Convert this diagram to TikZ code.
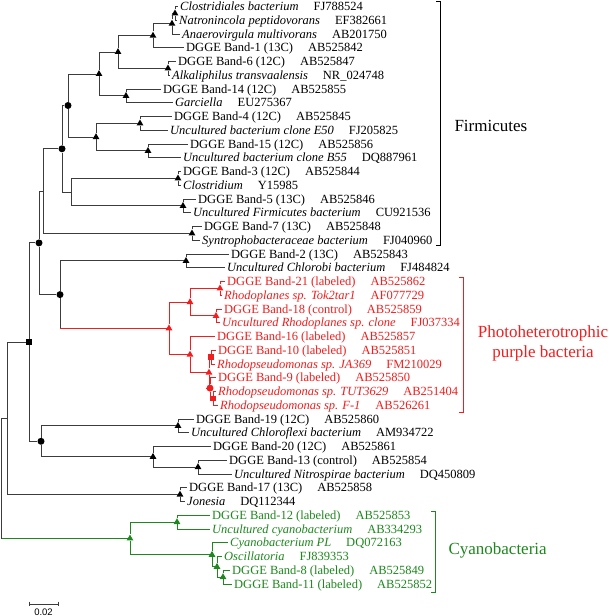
\documentclass[tikz,border=0pt]{standalone}
\usepackage{fontspec}
\setmainfont{Liberation Serif}
\newfontfamily\barfont{Liberation Sans}
\usetikzlibrary{shapes.geometric}

\definecolor{phred}{RGB}{240,30,30}
\definecolor{cyagreen}{RGB}{30,135,30}
\definecolor{branch}{RGB}{60,60,60}
\newcommand{\accgap}{\hspace{1.2em}}

\begin{document}
\begin{tikzpicture}[
  x=1pt, y=-1pt,
  font=\fontsize{12.5}{14}\selectfont,
  edge/.style={draw=branch, line width=0.9pt},
  leaf/.style={anchor=west, inner xsep=2pt, inner ysep=0pt, text height=8.3pt, text depth=0pt},
  tri/.style={regular polygon, regular polygon sides=3, fill, inner sep=0pt, minimum size=7.8pt},
  dot/.style={circle, fill, inner sep=0pt, minimum size=7pt},
  sq/.style={rectangle, fill, inner sep=0pt, minimum size=5.4pt},
  clade/.style={line width=0.9pt},
  cladename/.style={font=\fontsize{17}{20}\selectfont, align=center}
]
\useasboundingbox (0,0) rectangle (609,616);

% internal nodes
\node[tri] (n1) at (175,13.4) {};
\node[tri] (n2) at (172,23.7) {};
\node[tri] (n3) at (153,35.7) {};
\node[tri] (n4) at (168,68.4) {};
\node[tri] (n5) at (118,52.0) {};
\node[tri] (n6) at (126,95.9) {};
\node[tri] (n7) at (99,74.0) {};
\node[tri] (n8) at (140,123.4) {};
\node[tri] (n9) at (148,150.9) {};
\node[tri] (n10) at (96,137.1) {};
\node[dot] (n11) at (68,105.5) {};
\node[tri] (n12) at (178,178.4) {};
\node[tri] (n13) at (183,205.9) {};
\coordinate (n14) at (71,192.1);
\node[dot] (n15) at (62,148.8) {};
\node[tri] (n16) at (192,233.4) {};
\coordinate (n17) at (43,191.1);
\node[tri] (n18) at (186,260.9) {};
\node[tri, fill=phred] (n19) at (220,288.4) {};
\node[tri, fill=phred] (n20) at (216,315.9) {};
\node[tri, fill=phred] (n21) at (190,302.1) {};
\node[sq, fill=phred] (n22) at (211,357.1) {};
\node[sq, fill=phred] (n23) at (213,398.4) {};
\node[dot, fill=phred] (n24) at (210,388.1) {};
\node[tri, fill=phred] (n25) at (209,372.6) {};
\node[tri, fill=phred] (n26) at (190,354.6) {};
\node[tri, fill=phred] (n27) at (169,328.3) {};
\node[dot] (n28) at (60,294.6) {};
\node[dot] (n29) at (39,242.9) {};
\node[tri] (n30) at (178,425.9) {};
\node[tri] (n31) at (198,467.1) {};
\node[tri] (n32) at (153,456.8) {};
\node[dot] (n33) at (41,441.3) {};
\node[sq] (n34) at (29,342.1) {};
\node[tri] (n35) at (180,494.6) {};
\coordinate (n36) at (7,418.4);
\node[tri, fill=cyagreen] (n37) at (177,522.1) {};
\node[tri, fill=cyagreen] (n38) at (223,577.1) {};
\node[tri, fill=cyagreen] (n39) at (217,566.8) {};
\node[tri, fill=cyagreen] (n40) at (212,554.8) {};
\node[tri, fill=cyagreen] (n41) at (130,538.5) {};
\coordinate (root) at (1.5,478.4);

% leaves
\node[leaf] (t1) at (178,6.5) {\textit{Clostridiales bacterium}\accgap FJ788524};
\node[leaf] (t2) at (177,20.25) {\textit{Natronincola peptidovorans}\accgap EF382661};
\node[leaf] (t3) at (180,34) {\textit{Anaerovirgula multivorans}\accgap AB201750};
\node[leaf] (t4) at (184,47.75) {DGGE Band-1 (13C)\accgap AB525842};
\node[leaf] (t5) at (176,61.5) {DGGE Band-6 (12C)\accgap AB525847};
\node[leaf] (t6) at (170,75.25) {\textit{Alkaliphilus transvaalensis}\accgap NR\_024748};
\node[leaf] (t7) at (161,89) {DGGE Band-14 (12C)\accgap AB525855};
\node[leaf] (t8) at (173,102.75) {\textit{Garciella}\accgap EU275367};
\node[leaf] (t9) at (172,116.5) {DGGE Band-4 (12C)\accgap AB525845};
\node[leaf] (t10) at (168,130.25) {\textit{Uncultured bacterium clone E50}\accgap FJ205825};
\node[leaf] (t11) at (188,144) {DGGE Band-15 (12C)\accgap AB525856};
\node[leaf] (t12) at (181,157.75) {\textit{Uncultured bacterium clone B55}\accgap DQ887961};
\node[leaf] (t13) at (181,171.5) {DGGE Band-3 (12C)\accgap AB525844};
\node[leaf] (t14) at (181,185.25) {\textit{Clostridium}\accgap Y15985};
\node[leaf] (t15) at (196,199) {DGGE Band-5 (13C)\accgap AB525846};
\node[leaf] (t16) at (191,212.75) {\textit{Uncultured Firmicutes bacterium}\accgap CU921536};
\node[leaf] (t17) at (202,226.5) {DGGE Band-7 (13C)\accgap AB525848};
\node[leaf] (t18) at (200,240.25) {\textit{Syntrophobacteraceae bacterium}\accgap FJ040960};
\node[leaf] (t19) at (229,254) {DGGE Band-2 (13C)\accgap AB525843};
\node[leaf] (t20) at (225,267.75) {\textit{Uncultured Chlorobi bacterium}\accgap FJ484824};
\node[leaf, text=phred] (t21) at (225,281.5) {DGGE Band-21 (labeled)\accgap AB525862};
\node[leaf, text=phred] (t22) at (222,295.25) {\textit{Rhodoplanes sp. Tok2tar1}\accgap AF077729};
\node[leaf, text=phred] (t23) at (222,309) {DGGE Band-18 (control)\accgap AB525859};
\node[leaf, text=phred] (t24) at (220,322.75) {\textit{Uncultured Rhodoplanes sp. clone}\accgap FJ037334};
\node[leaf, text=phred] (t25) at (215,336.5) {DGGE Band-16 (labeled)\accgap AB525857};
\node[leaf, text=phred] (t26) at (216,350.25) {DGGE Band-10 (labeled)\accgap AB525851};
\node[leaf, text=phred] (t27) at (215,364) {\textit{Rhodopseudomonas sp. JA369}\accgap FM210029};
\node[leaf, text=phred] (t28) at (216,377.75) {DGGE Band-9 (labeled)\accgap AB525850};
\node[leaf, text=phred] (t29) at (216,391.5) {\textit{Rhodopseudomonas sp. TUT3629}\accgap AB251404};
\node[leaf, text=phred] (t30) at (218,405.25) {\textit{Rhodopseudomonas sp. F-1}\accgap AB526261};
\node[leaf] (t31) at (194,419) {DGGE Band-19 (12C)\accgap AB525860};
\node[leaf] (t32) at (189,432.75) {\textit{Uncultured Chloroflexi bacterium}\accgap AM934722};
\node[leaf] (t33) at (211,446.5) {DGGE Band-20 (12C)\accgap AB525861};
\node[leaf] (t34) at (227,460.25) {DGGE Band-13 (control)\accgap AB525854};
\node[leaf] (t35) at (232,474) {\textit{Uncultured Nitrospirae bacterium}\accgap DQ450809};
\node[leaf] (t36) at (187,487.75) {DGGE Band-17 (13C)\accgap AB525858};
\node[leaf] (t37) at (185,501.5) {\textit{Jonesia}\accgap DQ112344};
\node[leaf, text=cyagreen] (t38) at (210,515.25) {DGGE Band-12 (labeled)\accgap AB525853};
\node[leaf, text=cyagreen] (t39) at (210,529) {\textit{Uncultured cyanobacterium}\accgap AB334293};
\node[leaf, text=cyagreen] (t40) at (228,542.75) {\textit{Cyanobacterium PL}\accgap DQ072163};
\node[leaf, text=cyagreen] (t41) at (222,556.5) {\textit{Oscillatoria}\accgap FJ839353};
\node[leaf, text=cyagreen] (t42) at (230,570.25) {DGGE Band-8 (labeled)\accgap AB525849};
\node[leaf, text=cyagreen] (t43) at (232,584) {DGGE Band-11 (labeled)\accgap AB525852};

% branches
\draw[edge] (n1) |- (t1) (n1) |- (t2) (n2) |- (n1) (n2) |- (t3)
  (n3) |- (n2) (n3) |- (t4) (n4) |- (t5) (n4) |- (t6)
  (n5) |- (n3) (n5) |- (n4) (n6) |- (t7) (n6) |- (t8)
  (n7) |- (n5) (n7) |- (n6) (n8) |- (t9) (n8) |- (t10)
  (n9) |- (t11) (n9) |- (t12) (n10) |- (n8) (n10) |- (n9)
  (n11) |- (n7) (n11) |- (n10) (n12) |- (t13) (n12) |- (t14)
  (n13) |- (t15) (n13) |- (t16) (n14) |- (n12) (n14) |- (n13)
  (n15) |- (n11) (n15) |- (n14) (n16) |- (t17) (n16) |- (t18)
  (n17) |- (n15) (n17) |- (n16) (n18) |- (t19) (n18) |- (t20)
  (n28) |- (n18) (n28) -- (n28 |- n27) (n29) |- (n17) (n29) |- (n28);
\draw[edge, draw=phred] (n28 |- n27) -- (n27)
  (n19) |- (t21) (n19) |- (t22) (n20) |- (t23) (n20) |- (t24)
  (n21) |- (n19) (n21) |- (n20) (n22) |- (t26) (n22) |- (t27)
  (n23) |- (t29) (n23) |- (t30) (n24) |- (t28) (n24) |- (n23)
  (n25) |- (n22) (n25) |- (n24) (n26) |- (t25) (n26) |- (n25)
  (n27) |- (n21) (n27) |- (n26);
\draw[edge] (n30) |- (t31) (n30) |- (t32) (n31) |- (t34) (n31) |- (t35)
  (n32) |- (t33) (n32) |- (n31) (n33) |- (n30) (n33) |- (n32)
  (n34) |- (n29) (n34) |- (n33) (n35) |- (t36) (n35) |- (t37)
  (n36) |- (n34) (n36) |- (n35) (root) |- (n36) (root) -- (root |- n41);
\draw[edge, draw=cyagreen] (root |- n41) -- (n41)
  (n37) |- (t38) (n37) |- (t39) (n38) |- (t42) (n38) |- (t43)
  (n39) |- (t41) (n39) |- (n38) (n40) |- (t40) (n40) |- (n39)
  (n41) |- (n37) (n41) |- (n40);

% clade brackets
\draw[clade] (436,1.5) -- (440,1.5) -- (440,245) -- (436,245);
\node[cladename, anchor=west] (firm) at (451,126) {Firmicutes};
\draw[clade, phred] (459,277) -- (463,277) -- (463,412) -- (459,412);
\node[cladename, text=phred] (purple) at (543,343) {Photoheterotrophic\\purple bacteria};
\draw[clade, cyagreen] (431,511) -- (435,511) -- (435,592) -- (431,592);
\node[cladename, text=cyagreen, anchor=west] (cyano) at (445,550) {Cyanobacteria};

% scale bar
\draw[edge] (29,601.5) -- (29,606) (29,604) -- (58,604) (58,601.5) -- (58,606);
\node[font=\barfont\fontsize{9.5}{11}\selectfont] (scale) at (43.5,612) {0.02};
\end{tikzpicture}
\end{document}
